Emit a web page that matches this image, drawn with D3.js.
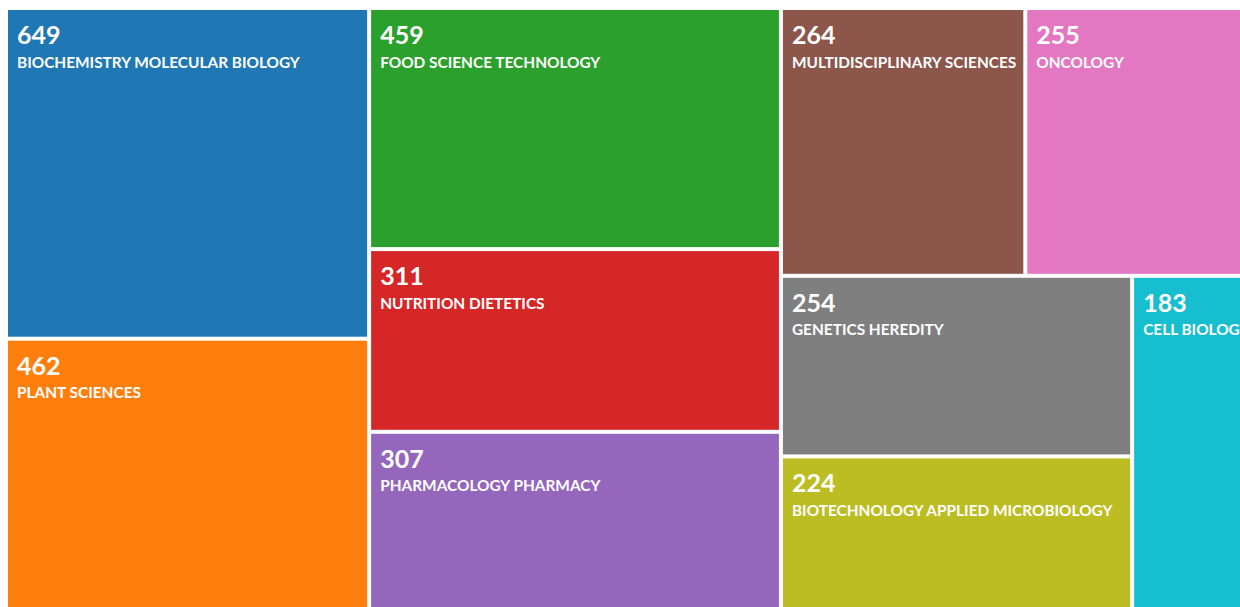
<!DOCTYPE html>
<html>
<head>
<meta charset="utf-8">
<script src="https://cdn.jsdelivr.net/npm/d3@7"></script>
<style>
  html, body { margin: 0; padding: 0; background: #fff; overflow: hidden; }
  svg { display: block; }
  .count { font-family: Lato, "Open Sans", sans-serif; font-weight: 700; font-size: 25px; fill: #fff; }
  .name { font-family: Lato, "Open Sans", sans-serif; font-weight: 700; font-size: 15.4px; fill: #fff; }
</style>
</head>
<body>
<svg id="treemapSvg" width="1240" height="607"></svg>
<script>
const categories = [
  "BIOCHEMISTRY MOLECULAR BIOLOGY",
  "PLANT SCIENCES",
  "FOOD SCIENCE TECHNOLOGY",
  "NUTRITION DIETETICS",
  "PHARMACOLOGY PHARMACY",
  "MULTIDISCIPLINARY SCIENCES",
  "ONCOLOGY",
  "GENETICS HEREDITY",
  "BIOTECHNOLOGY APPLIED MICROBIOLOGY",
  "CELL BIOLOGY"
];
const counts = [649, 462, 459, 311, 307, 264, 255, 254, 224, 183];
// tile sizes as drawn in the source (not proportional to the counts there)
const tileSizes = [118.9, 99.7, 98.3, 74.5, 75.1, 64.8, 62.5, 62.8, 55.5, 43.4];

const svg = d3.select("#treemapSvg");
// the source picture is cropped: the map runs past the right and bottom edges
const margin = { top: 10, left: 8 };
const mapWidth = 1251;
const mapHeight = 604;

const data = categories.map((name, i) => ({ name: name, count: counts[i], size: tileSizes[i] }));

const root = d3
  .hierarchy({ children: data })
  .sum((d) => d.size || 0);

d3.treemap()
  .tile(d3.treemapSquarify)
  .size([mapWidth, mapHeight])
  .paddingInner(4)(root);

const color = d3.scaleOrdinal().domain(categories).range(d3.schemeCategory10);

const group = svg
  .append("g")
  .attr("transform", `translate(${margin.left},${margin.top})`);

const cell = group
  .selectAll("g.cell")
  .data(root.leaves())
  .join("g")
  .attr("class", "cell")
  .attr("transform", (d) => `translate(${d.x0},${d.y0})`);

cell
  .append("rect")
  .attr("width", (d) => d.x1 - d.x0)
  .attr("height", (d) => d.y1 - d.y0)
  .attr("fill", (d) => color(d.data.name));

cell
  .append("text")
  .attr("class", "count")
  .attr("x", 9)
  .attr("y", 34)
  .text((d) => d.data.count);

cell
  .append("text")
  .attr("class", "name")
  .attr("x", 9)
  .attr("y", 57.5)
  .text((d) => d.data.name);
</script>
</body>
</html>
